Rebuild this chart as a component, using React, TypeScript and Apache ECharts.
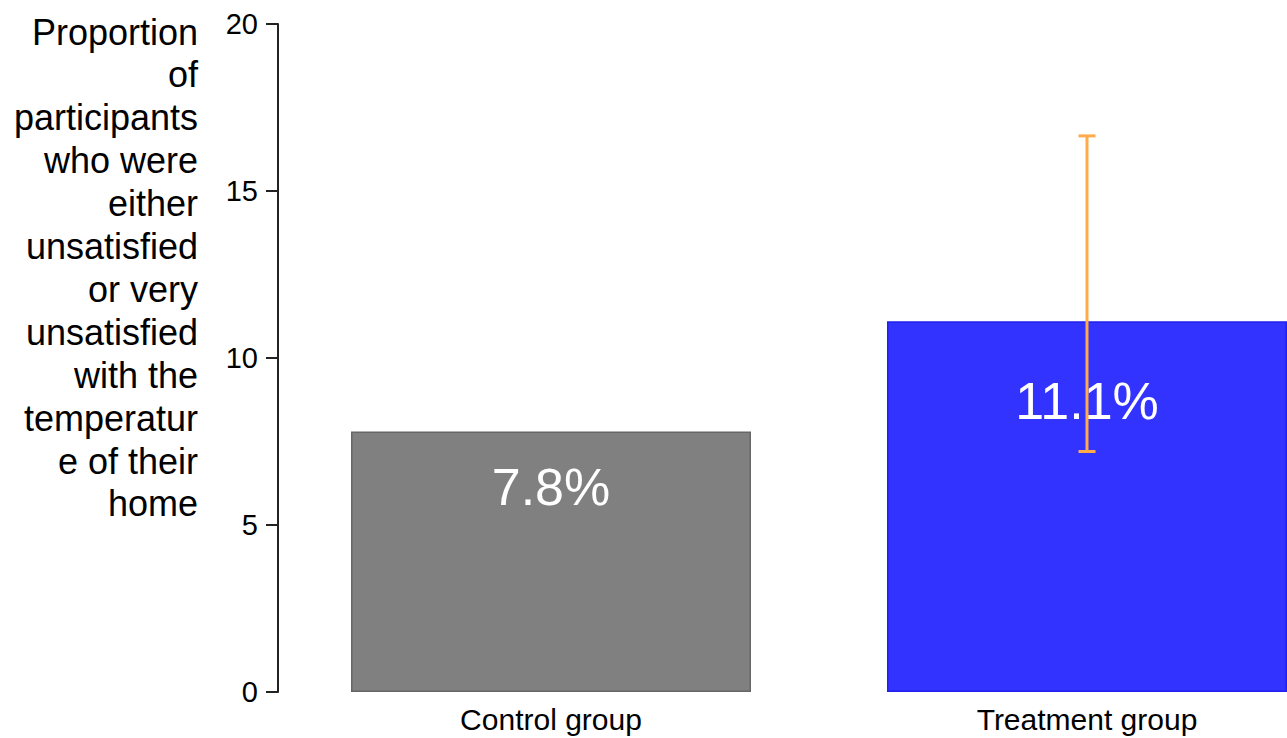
import React, { useEffect, useRef } from "react";
import * as echarts from "echarts";

// Share of participants unsatisfied or very unsatisfied with home temperature (%)
const groups = ["Control group", "Treatment group"];
const proportions = [7.8, 11.1];
const barColors = ["#808080", "#3333FF"];
const barBorders = ["#666666", "#2020F0"];
// 95% interval for the treatment group: [category index, low, high]
const intervals = [[1, 7.2, 16.65]];
const yTicks = [0, 5, 10, 15, 20];
const yTitleLines = [
  "Proportion",
  "of",
  "participants",
  "who were",
  "either",
  "unsatisfied",
  "or very",
  "unsatisfied",
  "with the",
  "temperatur",
  "e of their",
  "home",
];

const FONT = "'Liberation Sans', Arial, Helvetica, sans-serif";
const PAGE_W = 1287;
const PAGE_H = 738;
// the plotting region runs past the right edge of the page
const CHART_W = 1355;

export default function App() {
  const ref = useRef<HTMLDivElement>(null);

  useEffect(() => {
    if (!ref.current) return;
    const chart = echarts.init(ref.current, null, { renderer: "svg" });

    const option = {
      animation: false,
      backgroundColor: "#ffffff",
      grid: { left: 283, right: 0, top: 24, bottom: 46, containLabel: false },
      xAxis: {
        type: "category",
        data: groups,
        boundaryGap: true,
        axisLine: { show: false },
        axisTick: { show: false },
        axisLabel: {
          color: "#000",
          fontSize: 30,
          fontFamily: FONT,
          margin: 12,
        },
      },
      yAxis: {
        type: "value",
        min: yTicks[0],
        max: yTicks[yTicks.length - 1],
        interval: 5,
        offset: 5,
        splitLine: { show: false },
        axisLine: { show: true, lineStyle: { color: "#222", width: 2 } },
        axisTick: { show: true, length: 12, lineStyle: { color: "#222", width: 2 } },
        axisLabel: {
          color: "#000",
          fontSize: 29,
          fontFamily: FONT,
          margin: 20,
        },
      },
      graphic: yTitleLines.map((line, i) => ({
        type: "text",
        x: 198,
        y: 32 + i * 42.9,
        style: {
          text: line,
          fontSize: 36,
          fontFamily: FONT,
          fill: "#000",
          align: "right",
          verticalAlign: "middle",
        },
      })),
      series: [
        {
          type: "bar",
          barWidth: 400,
          data: proportions.map((v, i) => ({
            value: v,
            itemStyle: {
              color: barColors[i],
              borderColor: barBorders[i],
              borderWidth: 1.5,
            },
          })),
          label: { show: false },
        },
        {
          // value labels placed inside each bar
          type: "scatter",
          symbolSize: 0,
          silent: true,
          itemStyle: { opacity: 1 },
          data: proportions.map((v) => v * 0.785),
          label: {
            show: true,
            position: "inside",
            color: "#ffffff",
            fontSize: 52,
            fontFamily: FONT,
            formatter: (p: any) => proportions[p.dataIndex].toFixed(1) + "%",
          },
          z: 5,
        },
        {
          type: "custom",
          silent: true,
          z: 10,
          data: intervals,
          renderItem: (params: any, api: any) => {
            const x = api.value(0);
            const lo = api.coord([x, api.value(1)]);
            const hi = api.coord([x, api.value(2)]);
            const cap = 8.5;
            const style = { stroke: "#FFAB4A", lineWidth: 3 };
            return {
              type: "group",
              children: [
                { type: "line", shape: { x1: lo[0], y1: lo[1], x2: hi[0], y2: hi[1] }, style },
                { type: "line", shape: { x1: hi[0] - cap, y1: hi[1], x2: hi[0] + cap, y2: hi[1] }, style },
                { type: "line", shape: { x1: lo[0] - cap, y1: lo[1], x2: lo[0] + cap, y2: lo[1] }, style },
              ],
            };
          },
        },
      ],
    };

    chart.setOption(option);
    return () => chart.dispose();
  }, []);

  return (
    <div
      style={{
        position: "fixed",
        left: 0,
        top: 0,
        width: PAGE_W,
        height: PAGE_H,
        overflow: "hidden",
        background: "#fff",
      }}
    >
      <div ref={ref} style={{ width: CHART_W, height: PAGE_H }} />
    </div>
  );
}
